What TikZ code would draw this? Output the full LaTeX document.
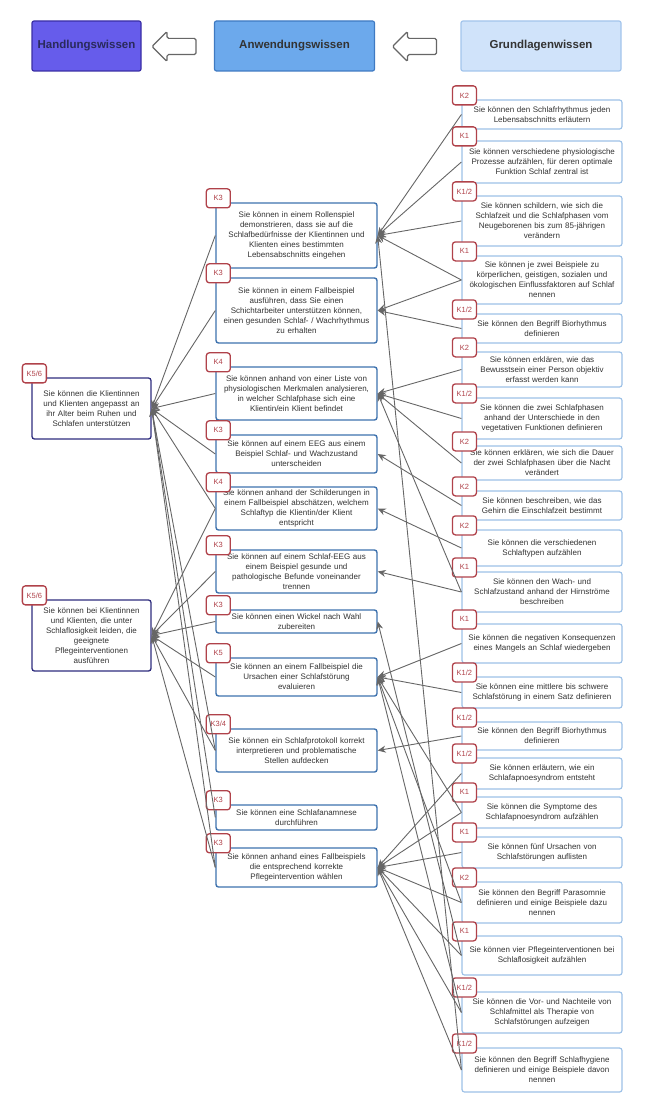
\documentclass[tikz,border=0pt]{standalone}
\usepackage{fontspec}
\setmainfont{Liberation Sans}
\usetikzlibrary{positioning, arrows.meta, shapes.arrows}

\definecolor{hwfill}{HTML}{665CEB}
\definecolor{hwline}{HTML}{3A2FA5}
\definecolor{hwtext}{HTML}{2A2A5C}
\definecolor{awfill}{HTML}{6CA9EC}
\definecolor{awline}{HTML}{3F7AC2}
\definecolor{gwfill}{HTML}{D0E3FA}
\definecolor{gwline}{HTML}{A3C5EC}
\definecolor{midline}{HTML}{3E72AE}
\definecolor{baseline}{HTML}{9DC1E7}
\definecolor{goalline}{HTML}{2F2D7E}
\definecolor{tagred}{HTML}{B0424A}
\definecolor{linkgray}{HTML}{666666}
\definecolor{textgray}{HTML}{333333}

\begin{document}
\begin{tikzpicture}[
    x=1pt, y=-1pt,
    ->, >={Stealth[length=8pt, width=7pt]},
    every edge/.style={draw=linkgray, line width=0.9pt},
    head/.style={rectangle, rounded corners=2pt, line width=1.2pt, text=textgray,
        font=\fontsize{11.5}{13}\selectfont\bfseries, minimum height=50pt, inner xsep=1pt},
    hollow/.style={single arrow, shape border rotate=180, draw=linkgray, fill=white,
        line width=1.2pt, minimum height=44pt, inner sep=7.5pt,
        single arrow head extend=7pt, rounded corners=1.5pt},
    box/.style={rectangle, rounded corners=2.5pt, fill=white, align=center, text=textgray,
        font=\fontsize{8}{10}\selectfont, inner xsep=3pt, inner ysep=1pt},
    goal/.style={box, draw=goalline, line width=1.3pt, text width=113pt},
    mid/.style={box, draw=midline, line width=1.4pt, text width=155pt},
    base/.style={box, draw=baseline, line width=1.2pt, text width=154pt},
    tag/.style={draw=tagred, text=tagred, fill=white, rounded corners=3pt, line width=1.3pt,
        font=\fontsize{7.5}{8}\selectfont, minimum width=24pt, minimum height=19pt,
        inner sep=1.5pt, anchor=center, xshift=3pt, yshift=4pt},
    k/.style={label={[tag]north west:#1}}
]
    \useasboundingbox (0,0) rectangle (647,1118);

    % Header
    \node[head, fill=hwfill, draw=hwline, text=hwtext, minimum width=109pt] (hw) at (86.5,46) {Handlungswissen};
    \node[head, fill=awfill, draw=awline, minimum width=160pt] (aw) at (294.5,46) {Anwendungswissen};
    \node[head, fill=gwfill, draw=gwline, minimum width=160pt] (gw) at (541,46) {Grundlagenwissen};
    \node[hollow] (arr1) at (178,46.5) {};
    \node[hollow] (arr2) at (418.5,46.5) {};

    % Handlungswissen
    \node[goal, k=K5/6, minimum height=61pt] (h1) at (91.5,408.5)
        {Sie können die Klientinnen\\und Klienten angepasst an\\ihr Alter beim Ruhen und\\Schlafen unterstützen};
    \node[goal, k=K5/6, minimum height=71pt] (h2) at (91.5,635.5)
        {Sie können bei Klientinnen\\und Klienten, die unter\\Schlaflosigkeit leiden, die\\geeignete\\Pflegeinterventionen\\ausführen};

    % Anwendungswissen
    \node[mid, k=K3, minimum height=65pt] (m1) at (296.5,235.5)
        {Sie können in einem Rollenspiel\\demonstrieren, dass sie auf die\\Schlafbedürfnisse der Klientinnen und\\Klienten eines bestimmten\\Lebensabschnitts eingehen};
    \node[mid, k=K3, minimum height=65pt] (m2) at (296.5,310.5)
        {Sie können in einem Fallbeispiel\\ausführen, dass Sie einen\\Schichtarbeiter unterstützen können,\\einen gesunden Schlaf- / Wachrhythmus\\zu erhalten};
    \node[mid, k=K4, minimum height=53pt] (m3) at (296.5,393.5)
        {Sie können anhand von einer Liste von\\physiologischen Merkmalen analysieren,\\in welcher Schlafphase sich eine\\Klientin/ein Klient befindet};
    \node[mid, k=K3, minimum height=38pt] (m4) at (296.5,454)
        {Sie können auf einem EEG aus einem\\Beispiel Schlaf- und Wachzustand\\unterscheiden};
    \node[mid, k=K4, minimum height=43pt] (m5) at (296.5,508.5)
        {Sie können anhand der Schilderungen in\\einem Fallbeispiel abschätzen, welchem\\Schlaftyp die Klientin/der Klient\\entspricht};
    \node[mid, k=K3, minimum height=43pt] (m6) at (296.5,571.5)
        {Sie können auf einem Schlaf-EEG aus\\einem Beispiel gesunde und\\pathologische Befunde voneinander\\trennen};
    \node[mid, k=K3, minimum height=23pt] (m7) at (296.5,621.5)
        {Sie können einen Wickel nach Wahl\\zubereiten};
    \node[mid, k=K5, minimum height=38pt] (m8) at (296.5,677)
        {Sie können an einem Fallbeispiel die\\Ursachen einer Schlafstörung\\evaluieren};
    \node[mid, k=K3/4, minimum height=43pt] (m9) at (296.5,750.5)
        {Sie können ein Schlafprotokoll korrekt\\interpretieren und problematische\\Stellen aufdecken};
    \node[mid, k=K3, minimum height=25pt] (m10) at (296.5,817.5)
        {Sie können eine Schlafanamnese\\durchführen};
    \node[mid, k=K3, minimum height=39pt] (m11) at (296.5,867.5)
        {Sie können anhand eines Fallbeispiels\\die entsprechend korrekte\\Pflegeintervention wählen};

    % Grundlagenwissen
    \node[base, k=K2, minimum height=29pt] (r1) at (542,114.5)
        {Sie können den Schlafrhythmus jeden\\Lebensabschnitts erläutern};
    \node[base, k=K1, minimum height=42pt] (r2) at (542,162)
        {Sie können verschiedene physiologische\\Prozesse aufzählen, für deren optimale\\Funktion Schlaf zentral ist};
    \node[base, k=K1/2, minimum height=50pt] (r3) at (542,221)
        {Sie können schildern, wie sich die\\Schlafzeit und die Schlafphasen vom\\Neugeborenen bis zum 85-jährigen\\verändern};
    \node[base, k=K1, minimum height=48pt] (r4) at (542,280)
        {Sie können je zwei Beispiele zu\\körperlichen, geistigen, sozialen und\\ökologischen Einflussfaktoren auf Schlaf\\nennen};
    \node[base, k=K1/2, minimum height=29pt] (r5) at (542,328.5)
        {Sie können den Begriff Biorhythmus\\definieren};
    \node[base, k=K2, minimum height=35pt] (r6) at (542,369.5)
        {Sie können erklären, wie das\\Bewusstsein einer Person objektiv\\erfasst werden kann};
    \node[base, k=K1/2, minimum height=41pt] (r7) at (542,418.5)
        {Sie können die zwei Schlafphasen\\anhand der Unterschiede in den\\vegetativen Funktionen definieren};
    \node[base, k=K2, minimum height=34pt] (r8) at (542,463)
        {Sie können erklären, wie sich die Dauer\\der zwei Schlafphasen über die Nacht\\verändert};
    \node[base, k=K2, minimum height=29pt] (r9) at (542,505.5)
        {Sie können beschreiben, wie das\\Gehirn die Einschlafzeit bestimmt};
    \node[base, k=K2, minimum height=36pt] (r10) at (542,548)
        {Sie können die verschiedenen\\Schlaftypen aufzählen};
    \node[base, k=K1, minimum height=40pt] (r11) at (542,592)
        {Sie können den Wach- und\\Schlafzustand anhand der Hirnströme\\beschreiben};
    \node[base, k=K1, minimum height=39pt] (r12) at (542,643.5)
        {Sie können die negativen Konsequenzen\\eines Mangels an Schlaf wiedergeben};
    \node[base, k=K1/2, minimum height=31pt] (r13) at (542,692.5)
        {Sie können eine mittlere bis schwere\\Schlafstörung in einem Satz definieren};
    \node[base, k=K1/2, minimum height=28pt] (r14) at (542,736)
        {Sie können den Begriff Biorhythmus\\definieren};
    \node[base, k=K1/2, minimum height=31pt] (r15) at (542,773.5)
        {Sie können erläutern, wie ein\\Schlafapnoesyndrom entsteht};
    \node[base, k=K1, minimum height=31pt] (r16) at (542,812.5)
        {Sie können die Symptome des\\Schlafapnoesyndrom aufzählen};
    \node[base, k=K1, minimum height=31pt] (r17) at (542,852.5)
        {Sie können fünf Ursachen von\\Schlafstörungen auflisten};
    \node[base, k=K2, minimum height=41pt] (r18) at (542,902.5)
        {Sie können den Begriff Parasomnie\\definieren und einige Beispiele dazu\\nennen};
    \node[base, k=K1, minimum height=39pt] (r19) at (542,955.5)
        {Sie können vier Pflegeinterventionen bei\\Schlaflosigkeit aufzählen};
    \node[base, k=K1/2, minimum height=41pt] (r20) at (542,1012.5)
        {Sie können die Vor- und Nachteile von\\Schlafmittel als Therapie von\\Schlafstörungen aufzeigen};
    \node[base, k=K1/2, minimum height=44pt] (r21) at (542,1070)
        {Sie können den Begriff Schlafhygiene\\definieren und einige Beispiele davon\\nennen};

    % Grundlagen -> Anwendung
    \foreach \from/\to in {r1/m1, r2/m1, r3/m1, r4/m1, r21/m1, r4/m2, r5/m2,
                           r6/m3, r7/m3, r8/m3, r11/m3, r9/m4, r10/m5, r11/m6, r19/m7,
                           r12/m8, r13/m8, r16/m8, r18/m8, r20/m8, r14/m9,
                           r15/m11, r16/m11, r17/m11, r18/m11, r19/m11, r20/m11, r21/m11}
        \path (\from.west) edge (\to.east);

    % Anwendung -> Handlung
    \foreach \from/\to in {m1/h1, m2/h1, m3/h1, m4/h1, m5/h1, m9/h1, m10/h1, m11/h1,
                           m5/h2, m6/h2, m7/h2, m8/h2, m9/h2, m11/h2}
        \path (\from.west) edge (\to.east);

\end{tikzpicture}
\end{document}
